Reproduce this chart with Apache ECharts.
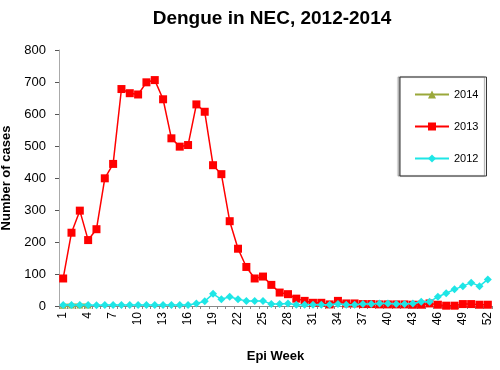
<!DOCTYPE html>
<html><head><meta charset="utf-8">
<script src="https://cdn.jsdelivr.net/npm/echarts@6/dist/echarts.min.js"></script>
<style>html,body{margin:0;padding:0;background:#fff}#c{width:500px;height:370px}</style>
</head><body><div id="c"></div>
<script>
const weeks = Array.from({length: 52}, (_, i) => String(i + 1));
const cases2014 = [2, 3, 3, 3];
const cases2013 = [86, 229, 298, 206, 240, 399, 444, 678, 665, 661, 699, 706, 646, 524, 498, 503, 630, 607, 440, 412,
  265, 179, 122, 86, 92, 66, 42, 37, 23, 16, 10, 10, 5, 16, 8, 8, 6, 6, 5, 5,
  5, 5, 4, 4, 8, 4, 1, 1, 6, 6, 4, 4];
const cases2012 = [3, 3, 3, 3, 2, 3, 3, 3, 3, 3, 3, 3, 3, 3, 3, 3, 8, 15, 38, 21,
  29, 21, 16, 16, 16, 6, 6, 8, 4, 4, 4, 4, 4, 6, 4, 4, 6, 6, 8, 8,
  6, 6, 8, 13, 13, 29, 40, 52, 62, 73, 62, 83];
const yTicks = [0, 100, 200, 300, 400, 500, 600, 700, 800];

const chart = echarts.init(document.getElementById('c'), null, {renderer: 'canvas'});
const bold = {fontFamily: 'Liberation Sans, Arial, sans-serif', fontWeight: 'bold', color: '#000'};
chart.setOption({
  animation: false,
  title: {text: 'Dengue in NEC, 2012-2014', left: 267, top: 4, textAlign: 'center',
    textStyle: Object.assign({fontSize: 19}, bold)},
  grid: {left: 59, right: 8, top: 50, bottom: 64, containLabel: false, outerBoundsMode: 'none'},
  legend: {
    orient: 'vertical', left: 400, top: 77, width: 82, height: 101,
    padding: [12, 8, 12, 14], itemGap: 21, itemWidth: 34, itemHeight: 10,
    borderColor: '#333', borderWidth: 1, backgroundColor: '#fff',
    shadowColor: 'rgba(0,0,0,0.35)', shadowOffsetX: -2, shadowBlur: 1,
    textStyle: {fontFamily: 'Liberation Sans, Arial, sans-serif', fontSize: 11, color: '#000'},
    data: ['2014', '2013', '2012']
  },
  xAxis: {
    type: 'category', data: weeks, boundaryGap: true,
    name: 'Epi Week', nameLocation: 'middle', nameGap: 44,
    nameTextStyle: Object.assign({fontSize: 13}, bold),
    axisLine: {lineStyle: {color: '#888'}},
    axisTick: {show: true, interval: 0, length: 3, lineStyle: {color: '#888'}},
    axisLabel: {interval: 2, rotate: 90, fontSize: 12, color: '#000', margin: 6,
      fontFamily: 'Liberation Sans, Arial, sans-serif'}
  },
  yAxis: {
    type: 'value', min: 0, max: 800, interval: 100,
    name: 'Number of cases', nameLocation: 'middle', nameGap: 39,
    nameTextStyle: Object.assign({fontSize: 13}, bold),
    axisLine: {show: true, lineStyle: {color: '#aaa'}},
    axisTick: {show: true, length: 4, lineStyle: {color: '#555'}},
    splitLine: {show: false},
    axisLabel: {fontSize: 13, color: '#000', margin: 13,
      fontFamily: 'Liberation Sans, Arial, sans-serif'}
  },
  series: [
    {name: '2014', type: 'line', data: cases2014, symbol: 'triangle', symbolSize: 7, showAllSymbol: true,
      itemStyle: {color: '#9aa83a'}, lineStyle: {color: '#9aa83a', width: 3}, z: 3},
    {name: '2013', type: 'line', data: cases2013, symbol: 'rect', symbolSize: 8, showAllSymbol: true,
      itemStyle: {color: '#ff0000'}, lineStyle: {color: '#ff0000', width: 1.5}, z: 2},
    {name: '2012', type: 'line', data: cases2012, symbol: 'diamond', symbolSize: 8, showAllSymbol: true,
      itemStyle: {color: '#1ee6e6'}, lineStyle: {color: '#1ee6e6', width: 1.5}, z: 4}
  ]
});
</script></body></html>
